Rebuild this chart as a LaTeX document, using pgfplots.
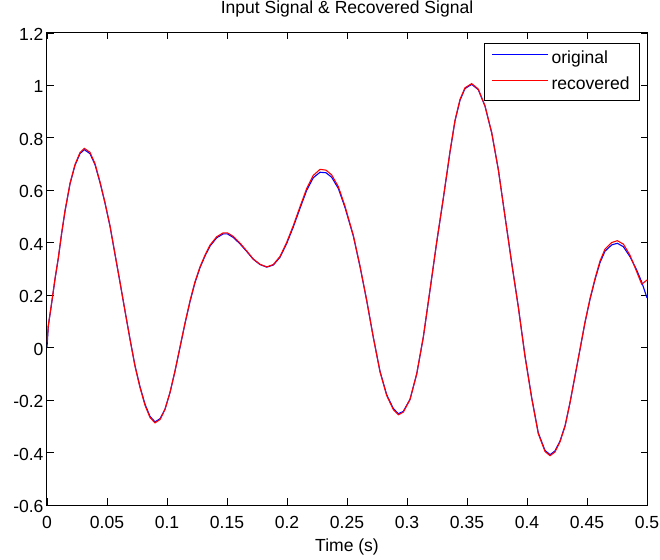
\documentclass[border=0pt]{standalone}
\usepackage{fontspec}
\setmainfont{Liberation Sans}
\usepackage{pgfplots}
\usepackage{pgfplotstable}
\pgfplotsset{compat=1.18}

\pgfplotstableread{
t v
0 0.000
0.0011 0.083
0.0039 0.170
0.0067 0.262
0.0094 0.340
0.0122 0.435
0.0150 0.520
0.0192 0.625
0.0233 0.695
0.0275 0.740
0.0311 0.755
0.0358 0.740
0.0400 0.698
0.0442 0.629
0.0483 0.552
0.0525 0.463
0.0567 0.355
0.0608 0.250
0.0650 0.140
0.0692 0.032
0.0733 -0.068
0.0775 -0.149
0.0817 -0.216
0.0858 -0.262
0.0900 -0.283
0.0942 -0.271
0.0983 -0.235
0.1025 -0.171
0.1067 -0.089
0.1108 0.000
0.1150 0.092
0.1192 0.176
0.1233 0.248
0.1275 0.305
0.1317 0.350
0.1358 0.387
0.1414 0.419
0.1469 0.434
0.1503 0.434
0.1553 0.420
0.1608 0.396
0.1664 0.367
0.1719 0.337
0.1775 0.317
0.1831 0.307
0.1886 0.315
0.1942 0.345
0.1997 0.397
0.2053 0.461
0.2108 0.531
0.2164 0.600
0.2219 0.648
0.2275 0.669
0.2325 0.667
0.2372 0.650
0.2428 0.607
0.2483 0.535
0.2553 0.425
0.2608 0.310
0.2664 0.180
0.2719 0.040
0.2775 -0.090
0.2831 -0.180
0.2886 -0.232
0.2928 -0.252
0.2969 -0.243
0.3025 -0.197
0.3081 -0.100
0.3136 0.040
0.3192 0.220
0.3247 0.400
0.3303 0.570
0.3358 0.745
0.3400 0.865
0.3442 0.944
0.3483 0.988
0.3539 1.004
0.3594 0.984
0.3650 0.921
0.3706 0.819
0.3761 0.679
0.3817 0.500
0.3872 0.325
0.3928 0.155
0.3983 -0.030
0.4039 -0.190
0.4094 -0.325
0.4150 -0.392
0.4192 -0.408
0.4233 -0.394
0.4275 -0.356
0.4317 -0.298
0.4358 -0.210
0.4400 -0.108
0.4442 -0.006
0.4483 0.095
0.4525 0.184
0.4567 0.260
0.4608 0.324
0.4650 0.368
0.4706 0.392
0.4753 0.398
0.4803 0.385
0.4858 0.347
0.4914 0.296
0.4956 0.250
0.5000 0.190
}\original

\pgfplotstableread{
t v
0 0.020
0.0011 0.085
0.0039 0.172
0.0067 0.264
0.0094 0.342
0.0122 0.437
0.0150 0.522
0.0192 0.627
0.0233 0.698
0.0275 0.744
0.0311 0.760
0.0358 0.745
0.0400 0.702
0.0442 0.632
0.0483 0.554
0.0525 0.465
0.0567 0.356
0.0608 0.251
0.0650 0.140
0.0692 0.031
0.0733 -0.070
0.0775 -0.152
0.0817 -0.220
0.0858 -0.266
0.0900 -0.287
0.0942 -0.274
0.0983 -0.236
0.1025 -0.171
0.1067 -0.088
0.1108 0.002
0.1150 0.094
0.1192 0.179
0.1233 0.251
0.1275 0.308
0.1317 0.353
0.1358 0.391
0.1414 0.423
0.1469 0.438
0.1503 0.438
0.1553 0.424
0.1608 0.399
0.1664 0.369
0.1719 0.338
0.1775 0.318
0.1831 0.308
0.1886 0.317
0.1942 0.348
0.1997 0.401
0.2053 0.466
0.2108 0.537
0.2164 0.607
0.2219 0.657
0.2275 0.680
0.2325 0.677
0.2372 0.659
0.2428 0.614
0.2483 0.540
0.2553 0.428
0.2608 0.312
0.2664 0.181
0.2719 0.040
0.2775 -0.092
0.2831 -0.183
0.2886 -0.236
0.2928 -0.256
0.2969 -0.246
0.3025 -0.198
0.3081 -0.100
0.3136 0.041
0.3192 0.222
0.3247 0.402
0.3303 0.572
0.3358 0.747
0.3400 0.867
0.3442 0.947
0.3483 0.991
0.3539 1.007
0.3594 0.986
0.3650 0.922
0.3706 0.820
0.3761 0.679
0.3817 0.499
0.3872 0.323
0.3928 0.153
0.3983 -0.033
0.4039 -0.193
0.4094 -0.328
0.4150 -0.396
0.4192 -0.412
0.4233 -0.398
0.4275 -0.359
0.4317 -0.300
0.4358 -0.211
0.4400 -0.108
0.4442 -0.005
0.4483 0.097
0.4525 0.187
0.4567 0.264
0.4608 0.330
0.4650 0.376
0.4706 0.401
0.4753 0.408
0.4803 0.395
0.4858 0.353
0.4914 0.290
0.4956 0.242
0.5000 0.258
}\recovered

\begin{document}
\begin{tikzpicture}[font=\fontsize{17.6}{21}\selectfont]
\useasboundingbox (-47bp,-55bp) rectangle (613bp,505bp);
\begin{axis}[
  at={(0,0)}, anchor=south west,
  scale only axis, width=600bp, height=472bp,
  xmin=0, xmax=0.5, ymin=-0.6, ymax=1.2,
  xtick distance=0.05, ytick distance=0.2,
  tick align=inside, major tick length=6.5bp,
  minor tick num=0,
  axis line style={line width=1bp, black},
  every tick/.style={black, line width=0.8bp},
  /pgf/number format/assume math mode=true,
  xticklabel style={/pgf/number format/fixed, /pgf/number format/precision=2, anchor=base, yshift=-23bp},
  yticklabel style={/pgf/number format/fixed, /pgf/number format/precision=1, yshift=-1.5bp},
  title={Input Signal \& Recovered Signal},
  title style={at={(axis description cs:0.5,1)}, anchor=base, yshift=13.7bp},
  xlabel={Time (s)},
  xlabel style={at={(axis description cs:0.5,0)}, anchor=base, yshift=-46.5bp},
  legend style={at={(axis description cs:0.98833,0.97818)}, anchor=north east,
    draw=black, line width=0.9bp, inner xsep=7bp, inner ysep=4.75bp,
    row sep=4.5bp,
    nodes={inner xsep=3bp, inner ysep=3bp, text height=12bp, text depth=3.5bp}},
  legend cell align=left,
  legend image code/.code={\draw[#1, line width=1bp] (0bp,4.75bp) -- (56bp,4.75bp);},
]
\addplot[blue, line width=1.1bp] table[x=t, y=v] {\original};
\addlegendentry{original}
\addplot[red, line width=1.1bp] table[x=t, y=v] {\recovered};
\addlegendentry{recovered}
\end{axis}
\end{tikzpicture}
\end{document}
